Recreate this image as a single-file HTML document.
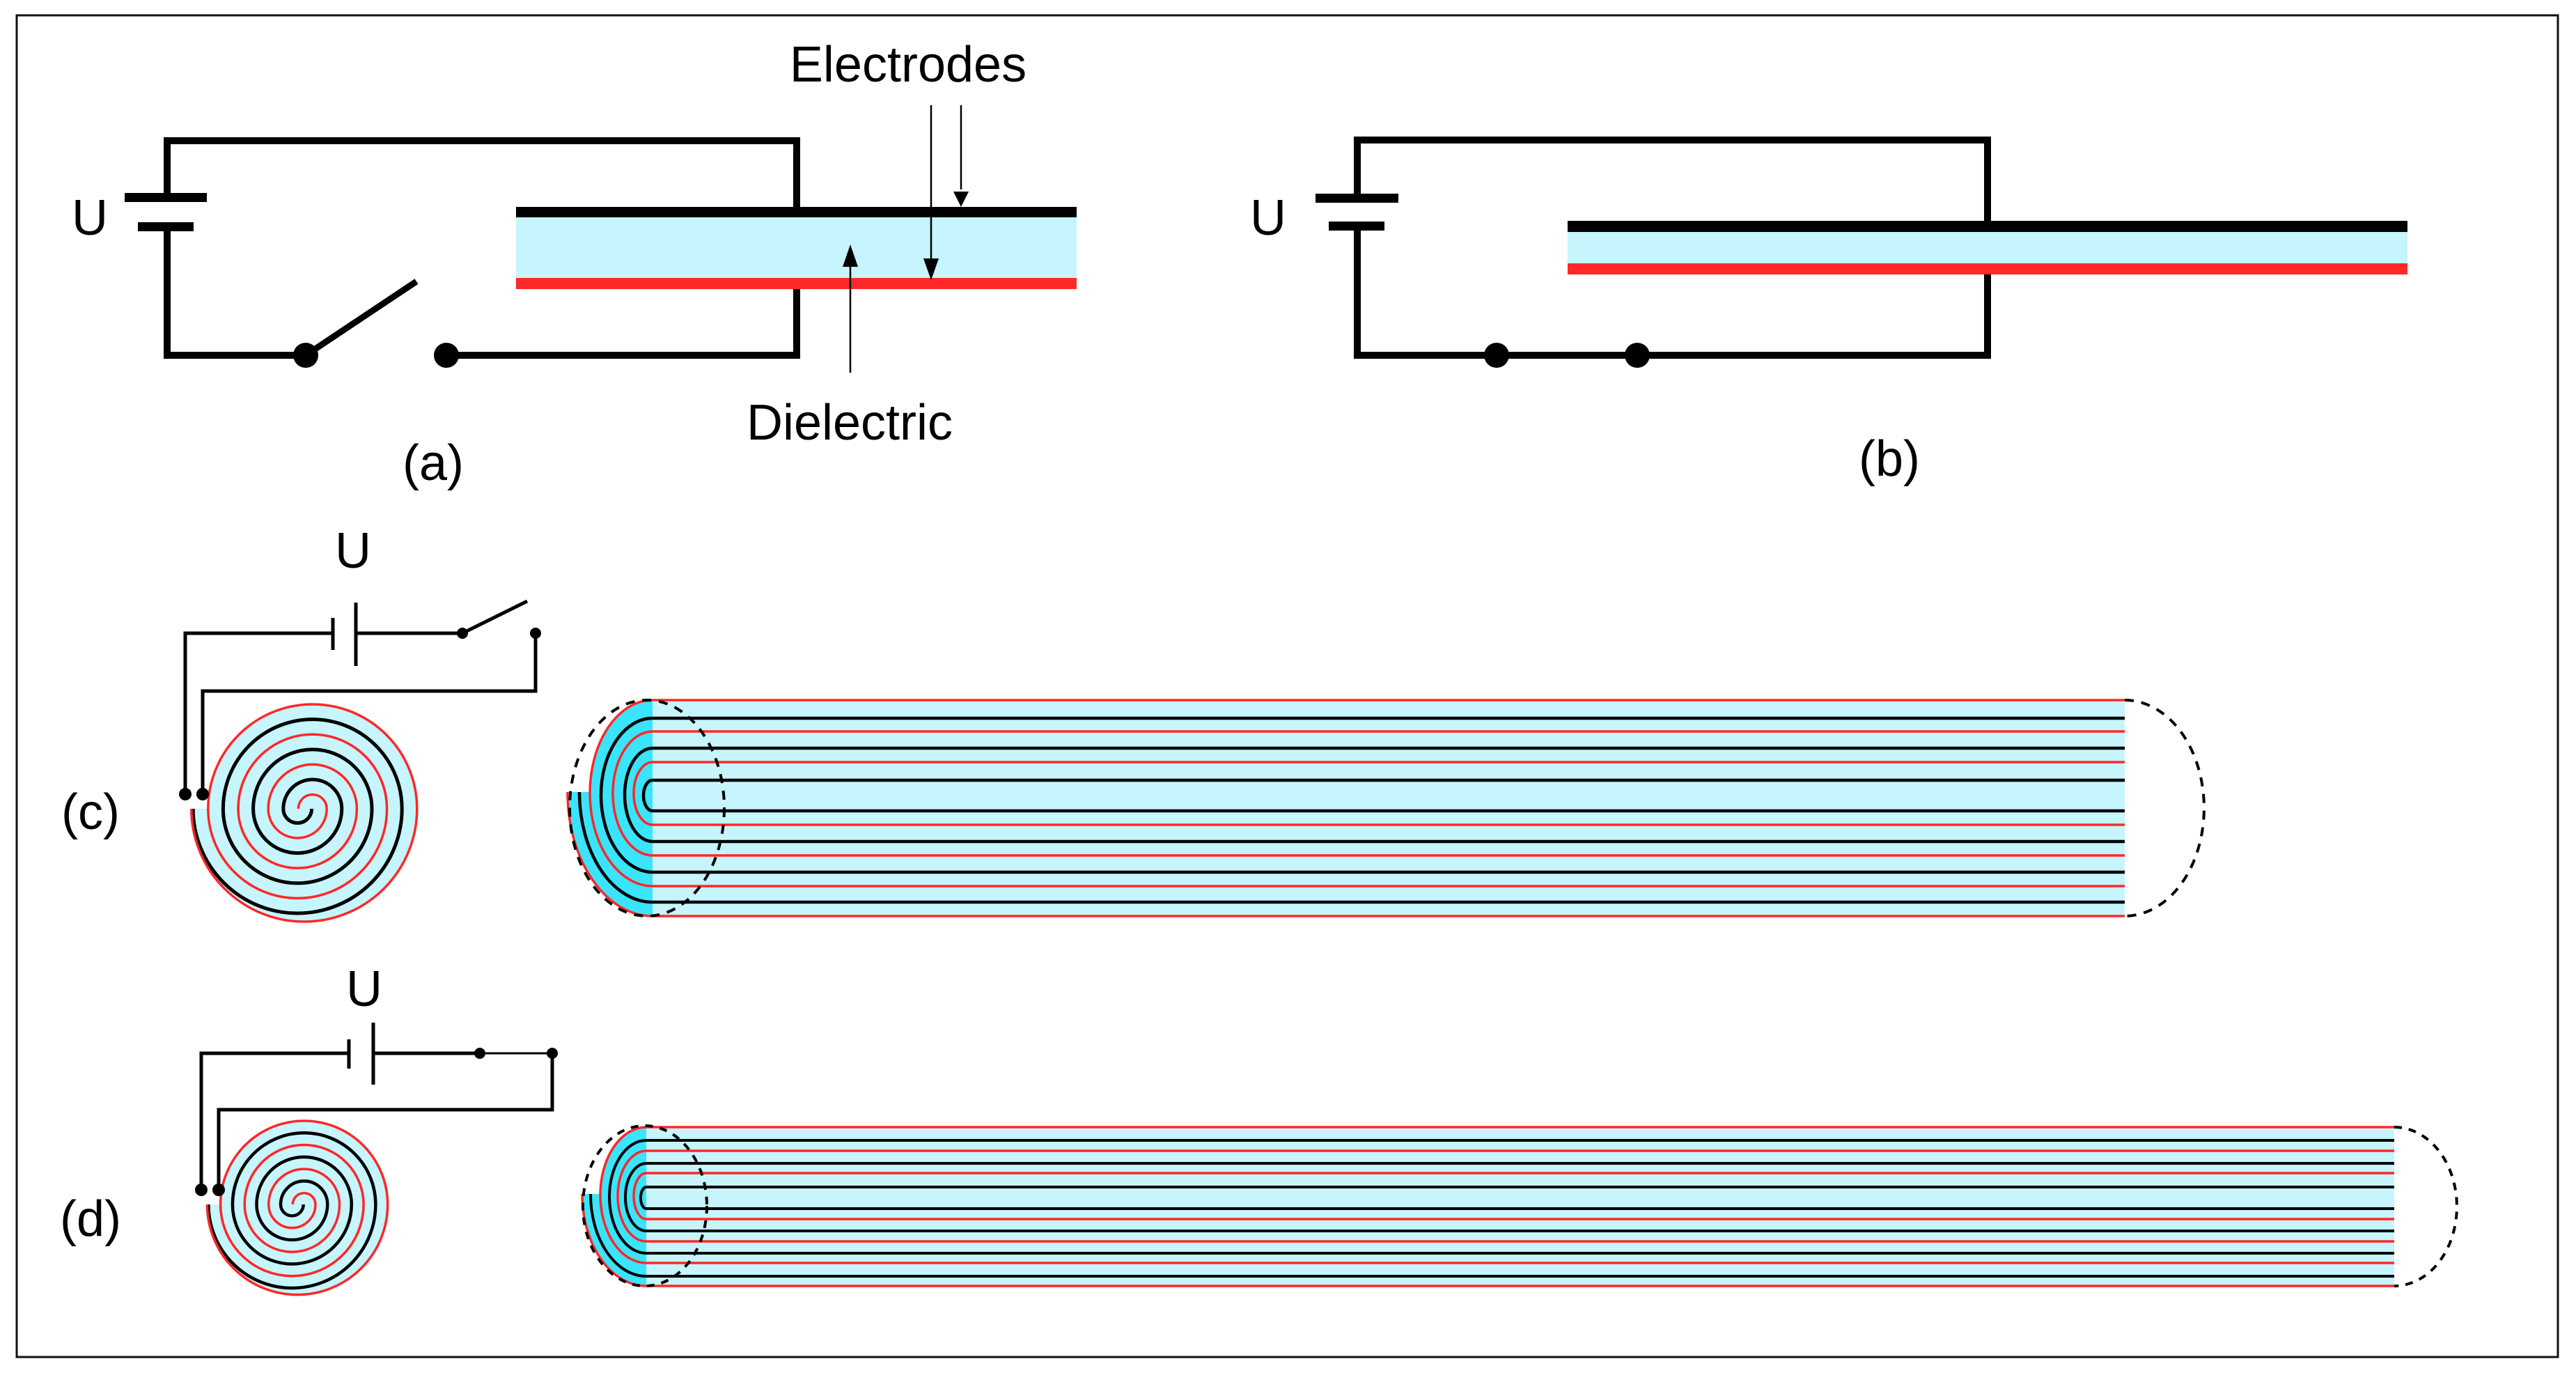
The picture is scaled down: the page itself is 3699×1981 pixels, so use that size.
<!DOCTYPE html>
<html><head><meta charset="utf-8"><style>
html,body{margin:0;padding:0;background:#fff;}
svg{display:block;}
text{font-family:"Liberation Sans",Arial,sans-serif;font-size:72px;fill:#000;}
</style></head><body>
<svg width="3699" height="1981" viewBox="0 0 3699 1981" xmlns="http://www.w3.org/2000/svg">
<rect x="24" y="22" width="3649" height="1926" fill="none" stroke="#111" stroke-width="3"/>

<!-- (a) -->
<g fill="none" stroke="#000" stroke-width="10">
<polyline points="240,283 240,202 1144,202 1144,297"/>
<polyline points="240,325 240,510 439,510"/>
<polyline points="641,510 1144,510 1144,415"/>
<line x1="439" y1="510" x2="598" y2="404" stroke-width="9"/>
</g>
<rect x="179" y="277" width="118" height="13" fill="#000"/>
<rect x="198" y="319" width="80" height="13" fill="#000"/>
<circle cx="439" cy="510" r="18"/><circle cx="641" cy="510" r="18"/>
<rect x="741" y="312" width="805" height="87" fill="#c6f5fd"/>
<rect x="741" y="297" width="805" height="15" fill="#000"/>
<rect x="741" y="399" width="805" height="16" fill="#ff2828"/>
<g stroke="#000" stroke-width="2.5">
<line x1="1337" y1="151" x2="1337" y2="375"/>
<line x1="1380" y1="151" x2="1380" y2="272"/>
<line x1="1221" y1="535" x2="1221" y2="380"/>
</g>
<polygon points="1326,371 1348,371 1337,402" fill="#000"/>
<polygon points="1369,275 1391,275 1380,297" fill="#000"/>
<polygon points="1210,383 1232,383 1221,351" fill="#000"/>
<text x="1304" y="117" text-anchor="middle">Electrodes</text>
<text x="1220" y="631" text-anchor="middle">Dielectric</text>
<text x="622" y="689" text-anchor="middle">(a)</text>
<text x="129" y="337" text-anchor="middle">U</text>

<!-- (b) -->
<g fill="none" stroke="#000" stroke-width="10">
<polyline points="1949,284 1949,201 2854,201 2854,317"/>
<polyline points="1949,324 1949,510 2854,510 2854,394"/>
</g>
<rect x="1889" y="278" width="119" height="13" fill="#000"/>
<rect x="1908" y="318" width="80" height="13" fill="#000"/>
<circle cx="2149" cy="510" r="18"/><circle cx="2351" cy="510" r="18"/>
<rect x="2251" y="332" width="1206" height="47" fill="#c6f5fd"/>
<rect x="2251" y="317" width="1206" height="16" fill="#000"/>
<rect x="2251" y="378" width="1206" height="16" fill="#ff2828"/>
<text x="2713" y="683" text-anchor="middle">(b)</text>
<text x="1821" y="337" text-anchor="middle">U</text>

<!-- (c) circuit -->
<g fill="none" stroke="#000" stroke-width="5">
<polyline points="266,1140 266,909 478,909"/>
<polyline points="511,909 664,909"/>
<line x1="664" y1="909" x2="757" y2="863"/>
<polyline points="769,909 769,992 291,992 291,1140"/>
</g>
<line x1="478" y1="887" x2="478" y2="933" stroke="#000" stroke-width="5"/>
<line x1="511" y1="865" x2="511" y2="956" stroke="#000" stroke-width="5"/>
<circle cx="664" cy="909" r="8"/><circle cx="769" cy="909" r="8"/>
<text x="507" y="815" text-anchor="middle">U</text>
<text x="130" y="1190" text-anchor="middle">(c)</text>

<g transform="translate(438,1161) scale(2.4,2.4)">
<path d="M-58,0 A62.5 62.5 0 0 1 67,0 A67.5 67.5 0 0 1 -68,0 Z" fill="#c6f5fd"/>
<path d="M4,0 A8.5 8.5 0 0 1 -13,0 A17.5 17.5 0 0 1 22,0 A26.5 26.5 0 0 1 -31,0 A35.5 35.5 0 0 1 40,0 A44.5 44.5 0 0 1 -49,0 A53.5 53.5 0 0 1 58,0 A62.5 62.5 0 0 1 -67,0" fill="none" stroke="#000" stroke-width="5" vector-effect="non-scaling-stroke"/>
<path d="M-4,0 A8.5 8.5 0 0 1 13,0 A17.5 17.5 0 0 1 -22,0 A26.5 26.5 0 0 1 31,0 A35.5 35.5 0 0 1 -40,0 A44.5 44.5 0 0 1 49,0 A53.5 53.5 0 0 1 -58,0 A62.5 62.5 0 0 1 67,0 A67.5 67.5 0 0 1 -68,0" fill="none" stroke="#ff2828" stroke-width="3.5" vector-effect="non-scaling-stroke"/>
</g>
<circle cx="266" cy="1140" r="9"/><circle cx="291" cy="1140" r="9"/>

<!-- (c) cylinder -->
<rect x="937" y="1005" width="2114" height="310" fill="#c6f5fd"/>
<path d="M937,1005 A90 133.5 0 0 0 937,1272 Z" fill="#3ae4fc"/>
<path d="M937,1137 L815,1137 A122 178 0 0 0 937,1315 Z" fill="#3ae4fc"/>
<g stroke="#ff2828" stroke-width="3.5">
<line x1="937" y1="1005" x2="3051" y2="1005"/><line x1="937" y1="1050" x2="3051" y2="1050"/>
<line x1="937" y1="1094" x2="3051" y2="1094"/><line x1="937" y1="1184" x2="3051" y2="1184"/>
<line x1="937" y1="1228" x2="3051" y2="1228"/><line x1="937" y1="1272" x2="3051" y2="1272"/>
<line x1="937" y1="1315" x2="3051" y2="1315"/>
</g>
<g stroke="#000" stroke-width="4.5">
<line x1="937" y1="1031" x2="3051" y2="1031"/><line x1="937" y1="1074" x2="3051" y2="1074"/>
<line x1="937" y1="1120" x2="3051" y2="1120"/><line x1="937" y1="1164" x2="3051" y2="1164"/>
<line x1="937" y1="1208" x2="3051" y2="1208"/><line x1="937" y1="1252" x2="3051" y2="1252"/>
<line x1="937" y1="1295" x2="3051" y2="1295"/>
</g>
<g fill="none" stroke="#000" stroke-width="4.5">
<path d="M937,1120 A13 22 0 0 0 937,1164"/>
<path d="M937,1074 A40 67 0 0 0 937,1208"/>
<path d="M937,1031 A74 110.5 0 0 0 937,1252"/>
<path d="M937,1295 A105 158 0 0 1 832,1137"/>
</g>
<g fill="none" stroke="#ff2828" stroke-width="3.5">
<path d="M937,1094 A27 45 0 0 0 937,1184"/>
<path d="M937,1050 A57 89 0 0 0 937,1228"/>
<path d="M937,1005 A90 133.5 0 0 0 937,1272"/>
<path d="M937,1315 A122 178 0 0 1 815,1137"/>
</g>
<g fill="none" stroke="#000" stroke-width="4" stroke-dasharray="13,11">
<ellipse cx="929" cy="1160" rx="111" ry="155"/>
<path d="M3051,1005 A114 155 0 0 1 3051,1315"/>
</g>

<!-- (d) circuit -->
<g fill="none" stroke="#000" stroke-width="5">
<polyline points="289,1708 289,1512 501,1512"/>
<polyline points="536,1512 689,1512"/>
<line x1="689" y1="1512" x2="793" y2="1512" stroke-width="3"/>
<polyline points="793,1512 793,1593 314,1593 314,1708"/>
</g>
<line x1="501" y1="1492" x2="501" y2="1534" stroke="#000" stroke-width="5"/>
<line x1="536" y1="1468" x2="536" y2="1557" stroke="#000" stroke-width="5"/>
<circle cx="689" cy="1512" r="8"/><circle cx="793" cy="1512" r="8"/>
<text x="523" y="1444" text-anchor="middle">U</text>
<text x="130" y="1774" text-anchor="middle">(d)</text>

<g transform="translate(428,1729) scale(1.92,1.92)">
<path d="M-58,0 A62.5 62.5 0 0 1 67,0 A67.5 67.5 0 0 1 -68,0 Z" fill="#c6f5fd"/>
<path d="M4,0 A8.5 8.5 0 0 1 -13,0 A17.5 17.5 0 0 1 22,0 A26.5 26.5 0 0 1 -31,0 A35.5 35.5 0 0 1 40,0 A44.5 44.5 0 0 1 -49,0 A53.5 53.5 0 0 1 58,0 A62.5 62.5 0 0 1 -67,0" fill="none" stroke="#000" stroke-width="4.5" vector-effect="non-scaling-stroke"/>
<path d="M-4,0 A8.5 8.5 0 0 1 13,0 A17.5 17.5 0 0 1 -22,0 A26.5 26.5 0 0 1 31,0 A35.5 35.5 0 0 1 -40,0 A44.5 44.5 0 0 1 49,0 A53.5 53.5 0 0 1 -58,0 A62.5 62.5 0 0 1 67,0 A67.5 67.5 0 0 1 -68,0" fill="none" stroke="#ff2828" stroke-width="3.5" vector-effect="non-scaling-stroke"/>
</g>
<circle cx="289" cy="1708" r="9"/><circle cx="314" cy="1708" r="9"/>

<!-- (d) cylinder -->
<rect x="928" y="1618" width="2510" height="228" fill="#c6f5fd"/>
<path d="M928,1618 A66 97.5 0 0 0 928,1813 Z" fill="#3ae4fc"/>
<path d="M928,1714 L836,1714 A92 132 0 0 0 928,1846 Z" fill="#3ae4fc"/>
<g stroke="#ff2828" stroke-width="3.5">
<line x1="928" y1="1618" x2="3438" y2="1618"/><line x1="928" y1="1652" x2="3438" y2="1652"/>
<line x1="928" y1="1684" x2="3438" y2="1684"/><line x1="928" y1="1750" x2="3438" y2="1750"/>
<line x1="928" y1="1782" x2="3438" y2="1782"/><line x1="928" y1="1813" x2="3438" y2="1813"/>
<line x1="928" y1="1846" x2="3438" y2="1846"/>
</g>
<g stroke="#000" stroke-width="4">
<line x1="928" y1="1637" x2="3438" y2="1637"/><line x1="928" y1="1670" x2="3438" y2="1670"/>
<line x1="928" y1="1704" x2="3438" y2="1704"/><line x1="928" y1="1735" x2="3438" y2="1735"/>
<line x1="928" y1="1767" x2="3438" y2="1767"/><line x1="928" y1="1799" x2="3438" y2="1799"/>
<line x1="928" y1="1832" x2="3438" y2="1832"/>
</g>
<g fill="none" stroke="#000" stroke-width="4">
<path d="M928,1704 A8 15.5 0 0 0 928,1735"/>
<path d="M928,1670 A30 48.5 0 0 0 928,1767"/>
<path d="M928,1637 A53 81 0 0 0 928,1799"/>
<path d="M928,1832 A80 118 0 0 1 848,1714"/>
</g>
<g fill="none" stroke="#ff2828" stroke-width="3.5">
<path d="M928,1684 A18 33 0 0 0 928,1750"/>
<path d="M928,1652 A41 65 0 0 0 928,1782"/>
<path d="M928,1618 A66 97.5 0 0 0 928,1813"/>
<path d="M928,1846 A92 132 0 0 1 836,1714"/>
</g>
<g fill="none" stroke="#000" stroke-width="4" stroke-dasharray="11,10">
<ellipse cx="926" cy="1731" rx="89" ry="115"/>
<path d="M3438,1618 A90 114 0 0 1 3438,1846"/>
</g>
</svg>
</body></html>
